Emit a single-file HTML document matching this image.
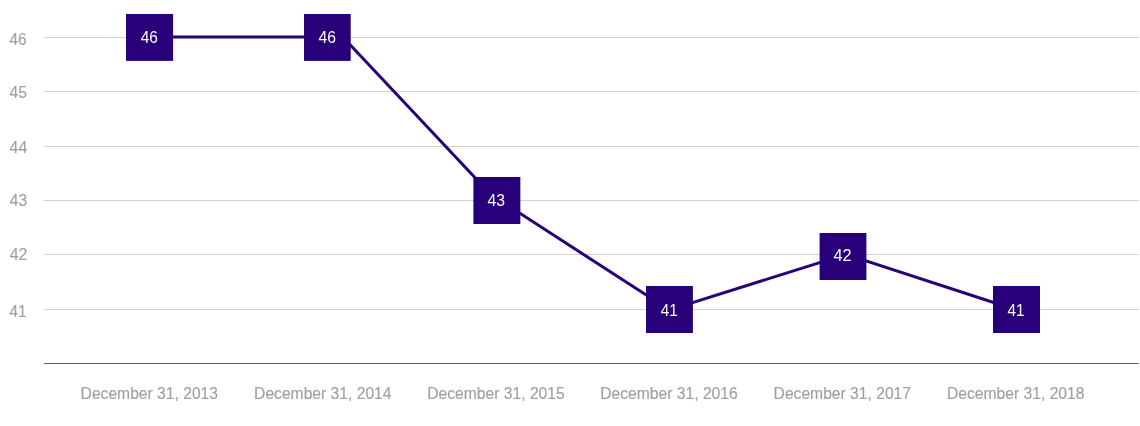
<!DOCTYPE html>
<html>
<head>
<meta charset="utf-8">
<title>Chart</title>
<style>
html,body{margin:0;padding:0;background:#fff;}
body{width:1140px;height:426px;overflow:hidden;}
svg{display:block;}
text{font-family:"Liberation Sans",sans-serif;}
.yl{font-size:16.5px;fill:#a0a0a0;stroke:#a0a0a0;stroke-width:.15px;}
.xl{font-size:16px;fill:#a0a0a0;stroke:#a0a0a0;stroke-width:.15px;text-anchor:middle;}
.dl{font-size:16.5px;fill:#ffffff;text-anchor:middle;}
</style>
</head>
<body>
<svg width="1140" height="426" viewBox="0 0 1140 426">
<rect x="0" y="0" width="1140" height="426" fill="#ffffff"/>
<g stroke="#d2d2cc" stroke-width="1" shape-rendering="crispEdges">
<line x1="44" y1="37.5" x2="1139" y2="37.5"/>
<line x1="44" y1="91.5" x2="1139" y2="91.5"/>
<line x1="44" y1="146.5" x2="1139" y2="146.5"/>
<line x1="44" y1="200.5" x2="1139" y2="200.5"/>
<line x1="44" y1="254.5" x2="1139" y2="254.5"/>
<line x1="44" y1="309.5" x2="1139" y2="309.5"/>
</g>
<line x1="44" y1="363.5" x2="1139" y2="363.5" stroke="#666666" stroke-width="1" shape-rendering="crispEdges"/>
<g class="yl">
<text x="9.6" y="45" textLength="17.05" lengthAdjust="spacingAndGlyphs">46</text>
<text x="9.6" y="98" textLength="17.5" lengthAdjust="spacingAndGlyphs">45</text>
<text x="9.6" y="153" textLength="17.6" lengthAdjust="spacingAndGlyphs">44</text>
<text x="9.7" y="206" textLength="17.4" lengthAdjust="spacingAndGlyphs">43</text>
<text x="9.7" y="260" textLength="17.8" lengthAdjust="spacingAndGlyphs">42</text>
<text x="9.6" y="317" textLength="17.05" lengthAdjust="spacingAndGlyphs">41</text>
</g>
<g class="xl">
<text x="149.3" y="399" textLength="137.4" lengthAdjust="spacingAndGlyphs">December 31, 2013</text>
<text x="322.8" y="399" textLength="137.4" lengthAdjust="spacingAndGlyphs">December 31, 2014</text>
<text x="496" y="399" textLength="137.4" lengthAdjust="spacingAndGlyphs">December 31, 2015</text>
<text x="669" y="399" textLength="137.4" lengthAdjust="spacingAndGlyphs">December 31, 2016</text>
<text x="842.3" y="399" textLength="137.4" lengthAdjust="spacingAndGlyphs">December 31, 2017</text>
<text x="1015.75" y="399" textLength="137.4" lengthAdjust="spacingAndGlyphs">December 31, 2018</text>
</g>
<polyline fill="none" stroke="#28007a" stroke-width="3" stroke-linejoin="round" points="149.5,37 342.8,37 496.5,200.5 500.15,200.5 668.7,309.6 670.3,309.6 846,254.4 1015.1,309.5"/>
<g fill="#28007a">
<rect x="126" y="14" width="47.1" height="46.9"/>
<rect x="304" y="14" width="46.7" height="46.9"/>
<rect x="473.4" y="177" width="46.95" height="47"/>
<rect x="646" y="286" width="46.9" height="47"/>
<rect x="819.6" y="233" width="46.8" height="47"/>
<rect x="993" y="286" width="47" height="47"/>
</g>
<g class="dl">
<text x="149.35" y="43.3" textLength="17.2" lengthAdjust="spacingAndGlyphs">46</text>
<text x="327.35" y="43.3" textLength="17.5" lengthAdjust="spacingAndGlyphs">46</text>
<text x="496.3" y="206.3" textLength="17.5" lengthAdjust="spacingAndGlyphs">43</text>
<text x="669.2" y="316.45" textLength="17.05" lengthAdjust="spacingAndGlyphs">41</text>
<text x="842.6" y="261.4" textLength="18.1" lengthAdjust="spacingAndGlyphs">42</text>
<text x="1016.1" y="316.45" textLength="17.05" lengthAdjust="spacingAndGlyphs">41</text>
</g>
</svg>
</body>
</html>
